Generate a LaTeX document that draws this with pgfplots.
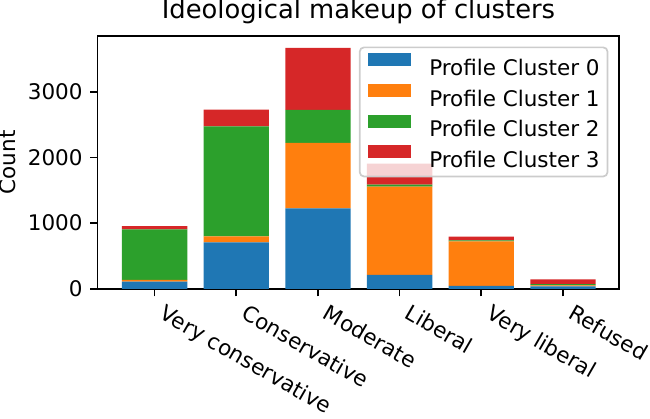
\documentclass[border=0pt]{standalone}
\usepackage{fontspec}
\setmainfont{DejaVu Sans}
\usepackage{pgfplots}
\pgfplotsset{compat=1.18}
\definecolor{c0}{HTML}{1F77B4}
\definecolor{c1}{HTML}{FF7F0E}
\definecolor{c2}{HTML}{2CA02C}
\definecolor{c3}{HTML}{D62728}
\begin{document}
\begin{tikzpicture}
\begin{axis}[
  scale only axis, width=242.8pt, height=117.7pt,
  ybar stacked, bar width=0.8,
  xmin=-0.698, xmax=5.69, ymin=0, ymax=3852,
  xtick={0,1,2,3,4,5},
  xticklabels={Very conservative, Conservative, Moderate, Liberal, Very liberal, Refused},
  ytick={0,1000,2000,3000},
  tick align=outside, major tick length=3.5pt,
  xtick pos=lower, ytick pos=left,
  tick style={black, line width=0.8pt},
  axis line style={line width=0.8pt},
  tick label style={font=\fontsize{10}{12}\selectfont},
  /pgf/number format/assume math mode=true,
  scaled y ticks=false,
  yticklabel style={/pgf/number format/1000 sep={}, anchor=east, inner sep=0pt, xshift=-3.3pt},
  xticklabel style={xshift=5.6pt, yshift=-3.2pt, rotate=-30, anchor=north west, inner sep=0pt},
  title={Ideological makeup of clusters},
  title style={at={(axis description cs:0.5,1)}, anchor=base, yshift=1.9pt, inner sep=0pt, align=none, text height=8.8pt, text depth=2.6pt, font=\fontsize{12}{14}\selectfont},
  ylabel={Count},
  ylabel style={at={(axis description cs:-0.1565,0.5)}, anchor=base, rotate=0, inner sep=0pt, font=\fontsize{10}{12}\selectfont},
  legend cell align=left,
  legend style={at={(0.979,0.958)}, anchor=north east, draw=black!20, line width=0.8pt,
    rounded corners=2pt, fill=white, fill opacity=0.8, text opacity=1,
    font=\fontsize{10}{12}\selectfont, nodes={inner sep=0pt},
    row sep=2.5pt, inner xsep=3.65pt, inner ysep=2.8pt,
    /tikz/every odd column/.append style={column sep=8.7pt}},
  legend image code/.code={\fill[#1,draw=none,fill opacity=1,sharp corners] (0pt,1.2pt) rectangle (20pt,7.2pt);},
]
\addplot[fill=c0, draw=none] coordinates {(0,111) (1,706) (2,1224) (3,213) (4,46) (5,36)};
\addplot[fill=c1, draw=none] coordinates {(0,26) (1,91) (2,997) (3,1342) (4,675) (5,16)};
\addplot[fill=c2, draw=none] coordinates {(0,767) (1,1677) (2,503) (3,30) (4,15) (5,20)};
\addplot[fill=c3, draw=none] coordinates {(0,52) (1,255) (2,945) (3,320) (4,57) (5,71)};
\legend{Profile Cluster 0, Profile Cluster 1, Profile Cluster 2, Profile Cluster 3}
\end{axis}
\end{tikzpicture}
\end{document}
